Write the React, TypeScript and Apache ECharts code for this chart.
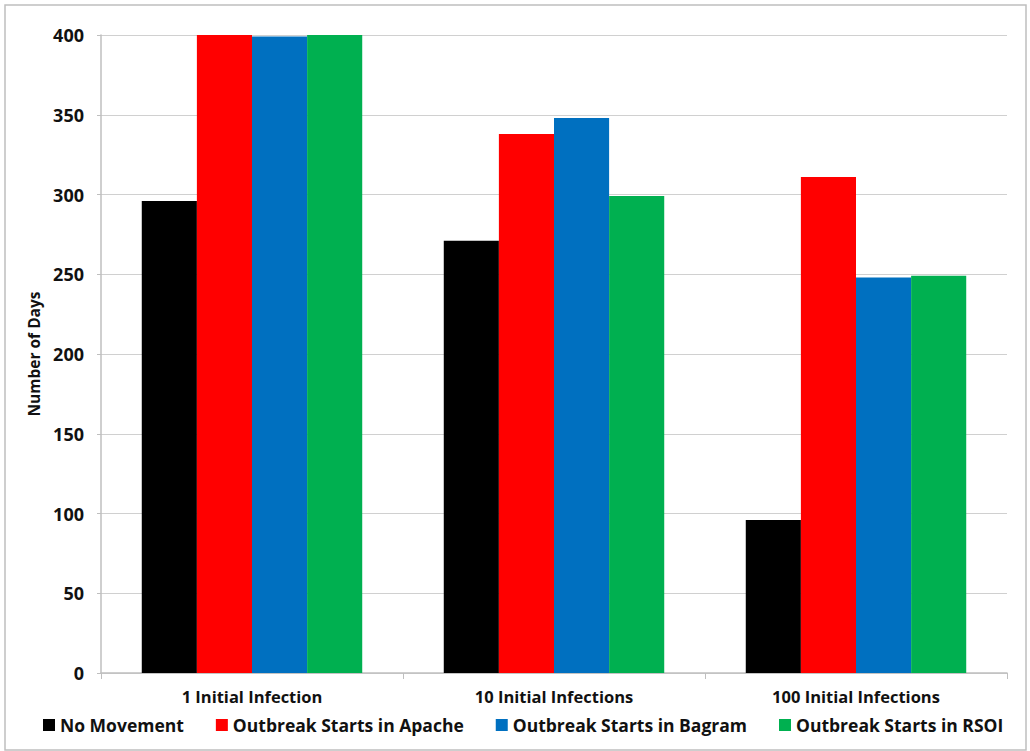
import React, { useEffect, useRef } from "react";
import * as echarts from "echarts";

const categories = ["1 Initial Infection", "10 Initial Infections", "100 Initial Infections"];
const seriesNames = [
  "No Movement",
  "Outbreak Starts in Apache",
  "Outbreak Starts in Bagram",
  "Outbreak Starts in RSOI",
];
const noMovement = [296, 271, 96];
const apache = [400, 338, 311];
const bagram = [399, 348, 248];
const rsoi = [400, 299, 249];
const colors = ["#000000", "#ff0000", "#0070c0", "#00b050"];

const FONT = "'Open Sans', 'Liberation Sans', sans-serif";

export default function App() {
  const ref = useRef<HTMLDivElement>(null);
  useEffect(() => {
    document.body.style.margin = "0";
    const chart = echarts.init(ref.current!, null, { renderer: "svg" });
    const values = [noMovement, apache, bagram, rsoi];
    chart.setOption({
      animation: false,
      backgroundColor: "#ffffff",
      grid: { left: 101, right: 23, top: 35, bottom: 78, containLabel: false },
      legend: {
        bottom: 12,
        left: 38,
        itemWidth: 12,
        itemHeight: 12,
        itemGap: 32,
        icon: "rect",
        data: seriesNames,
        textStyle: { fontFamily: FONT, fontWeight: "bold", fontSize: 17.5, color: "#111" },
      },
      graphic: [
        {
          type: "rect",
          shape: { x: 5, y: 5, width: 1021, height: 745 },
          style: { fill: "none", stroke: "#bfbfbf", lineWidth: 1.5 },
          silent: true,
        },
      ],
      xAxis: {
        type: "category",
        data: categories,
        axisLine: { lineStyle: { color: "#bfbfbf", width: 1.5 } },
        axisTick: { show: true, length: 6, lineStyle: { color: "#bfbfbf" } },
        axisLabel: {
          fontFamily: FONT,
          fontWeight: "bold",
          fontSize: 16.5,
          color: "#111",
          margin: 15,
        },
      },
      yAxis: {
        type: "value",
        min: 0,
        max: 400,
        interval: 50,
        name: "Number of Days",
        nameLocation: "middle",
        nameGap: 59,
        nameTextStyle: { fontFamily: FONT, fontWeight: "bold", fontSize: 15.5, color: "#111" },
        axisLine: { show: true, lineStyle: { color: "#bfbfbf", width: 1.5 } },
        axisTick: { show: true, length: 4, lineStyle: { color: "#bfbfbf" } },
        splitLine: { lineStyle: { color: "#d0d0d0", width: 1.2 } },
        axisLabel: {
          fontFamily: FONT,
          fontWeight: "bold",
          fontSize: 18,
          color: "#111",
          margin: 17,
        },
      },
      series: seriesNames.map((name, i) => ({
        name,
        type: "bar",
        data: values[i],
        itemStyle: { color: colors[i] },
        barGap: "0%",
        barCategoryGap: "27%",
      })),
    });
    return () => chart.dispose();
  }, []);
  return (
    <div
      ref={ref}
      style={{ position: "absolute", left: 0, top: 0, width: 1030, height: 751 }}
    />
  );
}
